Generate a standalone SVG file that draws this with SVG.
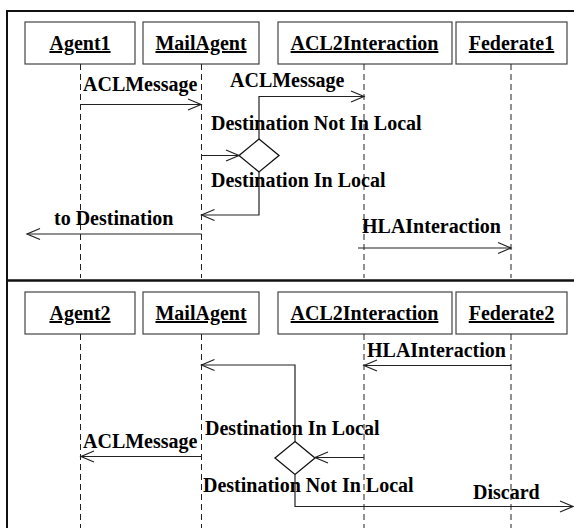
<svg xmlns="http://www.w3.org/2000/svg" width="574" height="528" viewBox="0 0 574 528">
<style>
text{font-family:"Liberation Serif","Times New Roman",serif;font-size:20px;font-weight:bold;fill:#000}
.nm{text-anchor:middle;text-decoration:underline}
.box{fill:#fff;stroke:#444;stroke-width:1.2}
.life{stroke:#222;stroke-width:1;stroke-dasharray:6 4;fill:none}
.msg{stroke:#222;stroke-width:1.2;fill:none}
.dia{fill:#fff;stroke:#111;stroke-width:1.3}
.frame{stroke:#111;fill:none}
</style>
<defs>
<marker id="open" markerUnits="userSpaceOnUse" markerWidth="16" markerHeight="14" viewBox="-14 -7 16 14" refX="0" refY="0" orient="auto">
<path d="M-13,-5.5 L0,0 L-13,5.5" fill="none" stroke="#222" stroke-width="1.2"/>
</marker>
</defs>
<g id="frame">
<line class="frame" x1="7" y1="11" x2="574" y2="11" stroke-width="2"/>
<line class="frame" x1="7" y1="10" x2="7" y2="528" stroke-width="2"/>
<line class="frame" x1="7" y1="280.5" x2="574" y2="280.5" stroke-width="2.4"/>
</g>
<g id="agent1"><rect class="box" x="25" y="22" width="110" height="42"/><text class="nm" x="80" y="50">Agent1</text><line class="life" x1="80.5" y1="64" x2="80.5" y2="278"/></g>
<g id="mailagent1"><rect class="box" x="143" y="22" width="116" height="42"/><text class="nm" x="201" y="50">MailAgent</text><line class="life" x1="201.5" y1="64" x2="201.5" y2="278"/></g>
<g id="acl2interaction1"><rect class="box" x="278" y="22" width="174" height="42"/><text class="nm" x="364.5" y="50">ACL2Interaction</text><line class="life" x1="364" y1="64" x2="364" y2="278"/></g>
<g id="federate1"><rect class="box" x="456" y="22" width="111" height="42"/><text class="nm" x="511.5" y="50">Federate1</text><line class="life" x1="511" y1="64" x2="511" y2="278"/></g>
<g id="decision1"><polygon class="dia" points="259,139 279,155.5 259,172 239,155.5"/></g>
<g id="agent2"><rect class="box" x="25" y="292" width="110" height="42"/><text class="nm" x="80" y="320">Agent2</text><line class="life" x1="80.5" y1="334" x2="80.5" y2="528"/></g>
<g id="mailagent2"><rect class="box" x="143" y="292" width="116" height="42"/><text class="nm" x="201" y="320">MailAgent</text><line class="life" x1="201.5" y1="334" x2="201.5" y2="528"/></g>
<g id="acl2interaction2"><rect class="box" x="278" y="292" width="174" height="42"/><text class="nm" x="364.5" y="320">ACL2Interaction</text><line class="life" x1="364" y1="334" x2="364" y2="528"/></g>
<g id="federate2"><rect class="box" x="456" y="292" width="111" height="42"/><text class="nm" x="511.5" y="320">Federate2</text><line class="life" x1="511" y1="334" x2="511" y2="528"/></g>
<g id="decision2"><polygon class="dia" points="295,441.5 315,458 295,474.5 275,458"/></g>
<g id="connectors">
<path class="msg" d="M80.5,104.5 H201" marker-end="url(#open)"/>
<path class="msg" d="M259,139 V96.5 H364" marker-end="url(#open)"/>
<path class="msg" d="M201.5,155.5 H239" marker-end="url(#open)"/>
<path class="msg" d="M259,172 V215 H201.5" marker-end="url(#open)"/>
<path class="msg" d="M201.5,234 H27" marker-end="url(#open)"/>
<path class="msg" d="M358,248 H511" marker-end="url(#open)"/>
<path class="msg" d="M511,365.5 H364" marker-end="url(#open)"/>
<path class="msg" d="M295,441.5 V365 H201.5" marker-end="url(#open)"/>
<path class="msg" d="M364,457.5 H315" marker-end="url(#open)"/>
<path class="msg" d="M201.5,456.5 H81" marker-end="url(#open)"/>
<path class="msg" d="M295,474.5 V506.5 H573" marker-end="url(#open)"/>
</g>
<g id="labels">
<text x="83" y="90.5">ACLMessage</text>
<text x="230" y="87">ACLMessage</text>
<text x="211" y="129.5">Destination Not In Local</text>
<text x="211" y="186.5">Destination In Local</text>
<text x="54" y="225">to Destination</text>
<text x="362" y="233">HLAInteraction</text>
<text x="367" y="357">HLAInteraction</text>
<text x="205" y="435">Destination In Local</text>
<text x="83" y="448">ACLMessage</text>
<text x="203" y="491.5">Destination Not In Local</text>
<text x="473" y="499">Discard</text>
</g>
</svg>
